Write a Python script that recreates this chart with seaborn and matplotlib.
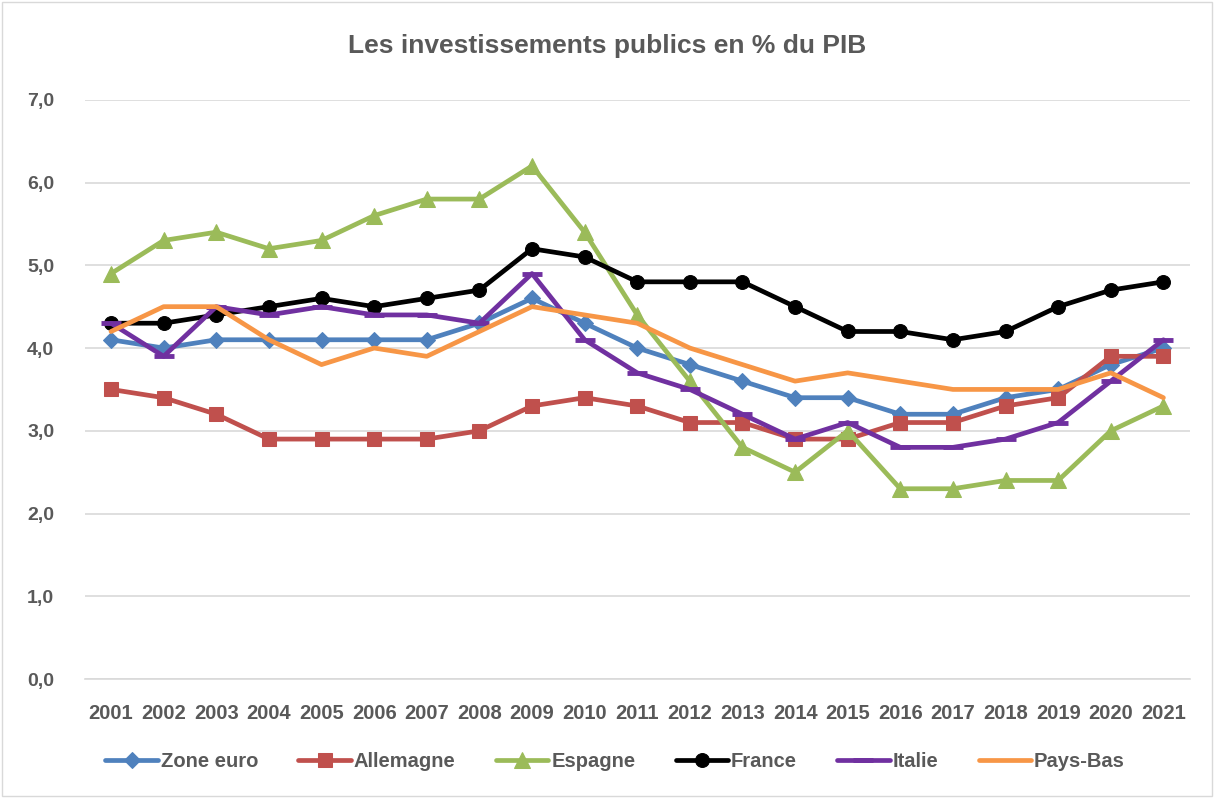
import numpy as np
import matplotlib.pyplot as plt
import pandas as pd
import seaborn as sns
from matplotlib import font_manager as fm

years = [str(y) for y in range(2001, 2022)]
zone_euro = [4.1, 4.0, 4.1, 4.1, 4.1, 4.1, 4.1, 4.3, 4.6, 4.3, 4.0, 3.8, 3.6, 3.4, 3.4, 3.2, 3.2, 3.4, 3.5, 3.8, 4.0]
allemagne = [3.5, 3.4, 3.2, 2.9, 2.9, 2.9, 2.9, 3.0, 3.3, 3.4, 3.3, 3.1, 3.1, 2.9, 2.9, 3.1, 3.1, 3.3, 3.4, 3.9, 3.9]
espagne = [4.9, 5.3, 5.4, 5.2, 5.3, 5.6, 5.8, 5.8, 6.2, 5.4, 4.4, 3.6, 2.8, 2.5, 3.0, 2.3, 2.3, 2.4, 2.4, 3.0, 3.3]
france = [4.3, 4.3, 4.4, 4.5, 4.6, 4.5, 4.6, 4.7, 5.2, 5.1, 4.8, 4.8, 4.8, 4.5, 4.2, 4.2, 4.1, 4.2, 4.5, 4.7, 4.8]
italie = [4.3, 3.9, 4.5, 4.4, 4.5, 4.4, 4.4, 4.3, 4.9, 4.1, 3.7, 3.5, 3.2, 2.9, 3.1, 2.8, 2.8, 2.9, 3.1, 3.6, 4.1]
pays_bas = [4.2, 4.5, 4.5, 4.1, 3.8, 4.0, 3.9, 4.2, 4.5, 4.4, 4.3, 4.0, 3.8, 3.6, 3.7, 3.6, 3.5, 3.5, 3.5, 3.7, 3.4]

series = {
    "Zone euro": (zone_euro, "#4f81bd", "D"),
    "Allemagne": (allemagne, "#c0504d", "s"),
    "Espagne": (espagne, "#9bbb59", "^"),
    "France": (france, "black", "o"),
    "Italie": (italie, "#7030a0", "_"),
    "Pays-Bas": (pays_bas, "#f79646", None),
}

sns.set_style("white")
installed = {f.name for f in fm.fontManager.ttflist}
fam = "Liberation Sans Narrow" if "Liberation Sans Narrow" in installed else "Liberation Sans"
plt.rcParams["font.family"] = [fam, "DejaVu Sans"]
grey = "#595959"

fig = plt.figure(figsize=(12.14, 7.98), dpi=100)
ax = fig.add_axes([0.0698, 0.149, 0.9102, 0.726])

x = np.arange(len(years))
for name, (vals, col, mk) in series.items():
    kw = dict(marker=mk, markersize=10, markeredgecolor=col, markerfacecolor=col)
    if mk == "_":
        kw.update(markersize=15, markeredgewidth=3.5)
    if mk == "D":
        kw.update(markersize=8.5)
    if mk == "^":
        kw.update(markersize=11)
    if mk is None:
        kw = {}
    sns.lineplot(x=x, y=vals, ax=ax, color=col, linewidth=3.4, label=name, **kw)

ax.set_xlim(-0.5, len(years) - 0.5)
ax.set_ylim(0, 7)
ax.set_yticks(np.arange(0, 7.01, 1))
ax.set_yticklabels([f"{v:.1f}".replace(".", ",") for v in np.arange(0, 7.01, 1)],
                   fontsize=14, fontweight="bold", color=grey)
ax.set_xticks(x)
ax.set_xticklabels(years, fontsize=14.5, fontweight="bold", color=grey)
ax.tick_params(axis="x", length=0, pad=18)
ax.tick_params(axis="y", length=0, pad=22)
ax.grid(axis="y", color="#d9d9d9", linewidth=1.2)
ax.set_axisbelow(True)
for s in ["top", "right", "left"]:
    ax.spines[s].set_visible(False)
ax.spines["bottom"].set_color("#d9d9d9")
ax.spines["bottom"].set_linewidth(1.2)

fig.suptitle("Les investissements publics en % du PIB", y=0.957,
             fontsize=19, fontweight="bold", color=grey)

leg = ax.legend(loc="upper center", bbox_to_anchor=(0.48, -0.095), ncol=6,
                frameon=False, handlelength=2.6, columnspacing=2.0, handletextpad=0.15,
                prop={"size": 14.5, "weight": "bold"})
for t in leg.get_texts():
    t.set_color(grey)

fig.patches.append(plt.Rectangle((0.002, 0.002), 0.996, 0.996, transform=fig.transFigure,
                                 fill=False, edgecolor="#d9d9d9", linewidth=1))

fig.savefig("out.png", dpi=100)
